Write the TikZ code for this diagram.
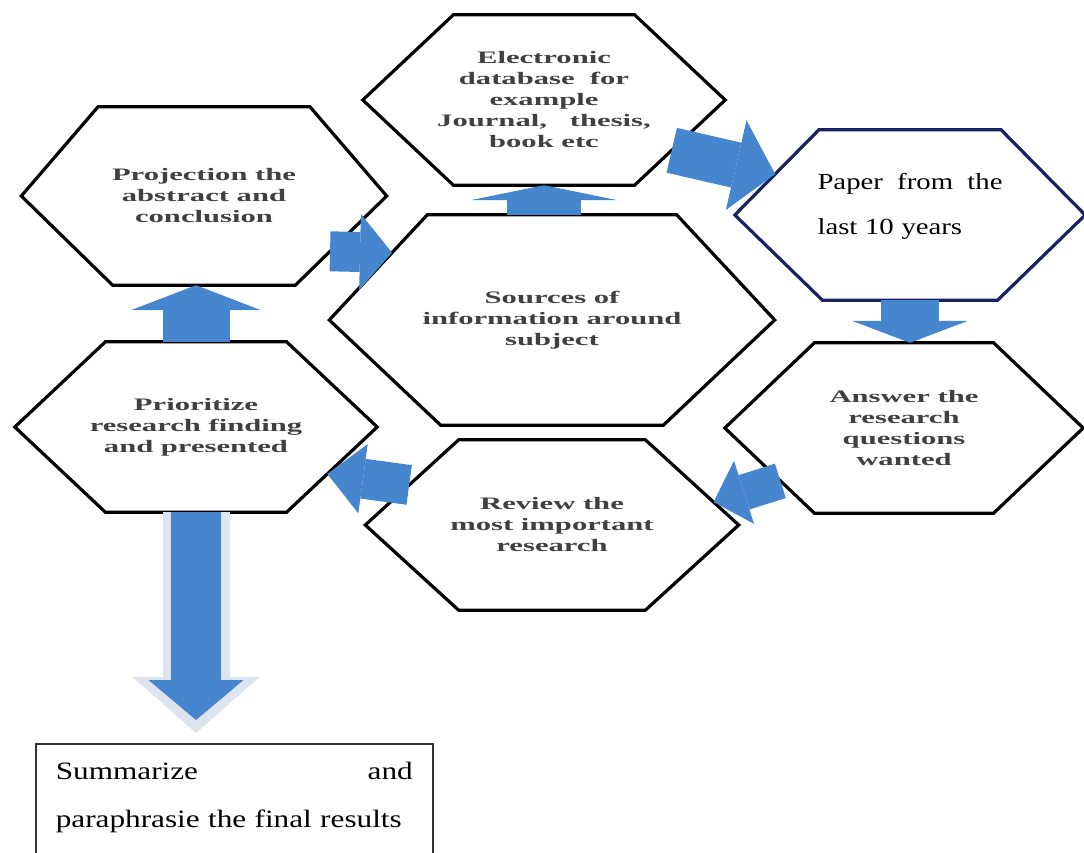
\documentclass[tikz,border=0pt]{standalone}
\usepackage{fontspec}
\setmainfont{Liberation Serif}
\newfontfamily\hexfont[FakeStretch=1.75]{Liberation Serif}
\newfontfamily\notefont[FakeStretch=1.25]{Liberation Serif}
\usepackage{tikz}
\usetikzlibrary{positioning, arrows.meta, calc}
\definecolor{flowblue}{RGB}{70,134,206}
\definecolor{flowrim}{RGB}{222,228,237}
\definecolor{hexnavy}{RGB}{24,34,96}
\definecolor{hexgray}{RGB}{64,64,64}

\begin{document}
\begin{tikzpicture}[x=1pt, y=-1pt,
  hexbox/.style={rectangle, inner sep=0pt, align=center, text=hexgray,
                 font=\hexfont\bfseries\fontsize{17.5}{21}\selectfont},
  hexline/.style={line width=3.2pt, line join=miter},
  notebox/.style={align=left, inner xsep=0pt, font=\notefont\fontsize{23}{45}\selectfont},
  blockarr/.style n args={4}{draw=flowblue, line width=#1,
              -{Triangle[length=#2, width=#3, line width=0pt]}, shorten >=#4}
]
  \useasboundingbox (0,0) rectangle (1084,852);

  %% Hexagon steps (outlines drawn further down)
  \node[hexbox, minimum width=362pt, minimum height=170pt] (elec) at (544,100) {Electronic\\database\ \ for\\example\\Journal,\ \ \ thesis,\\book etc};
  \node[hexbox, notebox, text=black, text width=185pt, minimum width=350pt, minimum height=170pt] (paper) at (910,215) {Paper \hfill from \hfill the\\last 10 years\\[-23pt]\mbox{}};
  \node[hexbox, minimum width=365pt, minimum height=178pt] (proj) at (204,196) {Projection the\\abstract and\\conclusion};
  \node[hexbox, minimum width=445pt, minimum height=210pt] (src)  at (552,320) {Sources of\\information around\\subject};
  \node[hexbox, minimum width=362pt, minimum height=170pt] (prio) at (196,427) {Prioritize\\research finding\\and presented};
  \node[hexbox, minimum width=373pt, minimum height=170pt] (rev)  at (552,525) {Review the\\most important\\research};
  \node[hexbox, minimum width=358pt, minimum height=170pt] (ans)  at (904,428) {Answer the\\research\\questions\\wanted};

  %% Final box, runs off the bottom edge
  \node[notebox, draw=black!80, line width=1.5pt, text width=357pt, inner xsep=20pt, inner ysep=18pt,
        anchor=north west, font=\notefont\fontsize{25}{48}\selectfont] (sum) at (35,743)
        {Summarize \hfill and\\paraphrasie the final results\\\mbox{}};

  %% Hexagon outlines
  \foreach \n/\col/\tf in {elec/black/0.25, paper/hexnavy/0.24, proj/black/0.21, src/black/0.22,
                           prio/black/0.25, rev/black/0.25, ans/black/0.25}{
    \coordinate (\n-nw) at ($(\n.north west)!\tf!(\n.north east)$);
    \coordinate (\n-ne) at ($(\n.north east)!\tf!(\n.north west)$);
    \coordinate (\n-sw) at ($(\n.south west)!0.25!(\n.south east)$);
    \coordinate (\n-se) at ($(\n.south east)!0.25!(\n.south west)$);
    \draw[hexline, draw=\col] (\n-nw) -- (\n-ne) -- (\n.east) -- (\n-se) -- (\n-sw) -- (\n.west) -- cycle;
  }

  %% Block arrows round the cycle
  \draw[blockarr={74pt}{15pt}{147pt}{0pt}] (elec.south |- src.north) -- (elec.south);
  \draw[blockarr={46pt}{40pt}{92pt}{0pt}] ($(elec.east)!0.59!(elec-se)$) -- ($(paper.west)!0.48!(paper-nw)$);
  \draw[blockarr={58pt}{22pt}{116pt}{0pt}] (paper.south) -- (paper.south |- ans.north);
  \draw[blockarr={36pt}{32pt}{66pt}{0pt}] ($(ans.west)!0.62!(ans-sw)$) -- ($(rev.east)!0.27!(rev-ne)$);
  \draw[blockarr={40pt}{36pt}{70pt}{0pt}] ($(rev.west)!0.47!(rev-nw)$) -- ($(prio.east)!0.55!(prio-se)$);
  \draw[blockarr={67pt}{25pt}{130pt}{0pt}] (prio.north) -- (prio.north |- proj.south);
  \draw[blockarr={40pt}{32pt}{76pt}{0pt}] ($(proj.east)!0.62!(proj-se)$) -- ($(src.west)!0.64!(src-nw)$);
  %% Long arrow down to the summary, pale rim first
  \draw[blockarr={67pt}{56pt}{127pt}{10pt}, draw=flowrim] (prio.south) -- (prio.south |- sum.north);
  \draw[blockarr={50pt}{40pt}{95pt}{23pt}] (prio.south) -- (prio.south |- sum.north);
\end{tikzpicture}
\end{document}
